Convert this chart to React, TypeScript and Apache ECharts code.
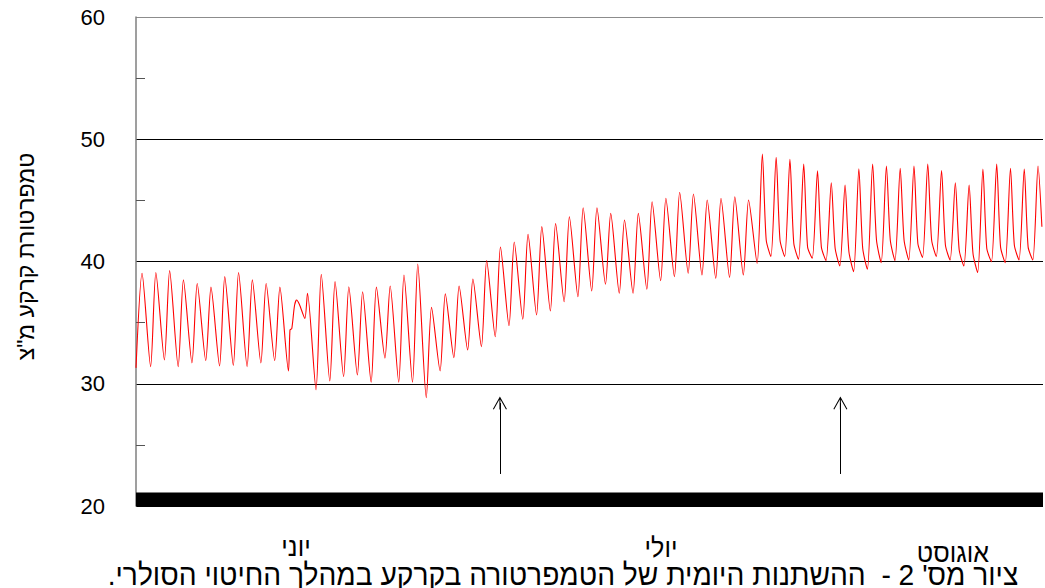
import React, { useEffect, useRef } from "react";
import * as echarts from "echarts";

// ---------- data ----------
const yTickValues = [20, 30, 40, 50, 60];
const months = ["יוני", "יולי", "אוגוסט"];
const yAxisTitle = 'טמפרטורת קרקע מ"צ';
const caption = "ציור מס' 2 -  ההשתנות היומית של הטמפרטורה בקרקע במהלך החיטוי הסולרי.\u200F";

// daily temperature (°C): minimum before each day's peak, daily peak, afternoon shoulder
const troughTemps: (number | null)[] = [
  31.3, 31.4, 31.95, 31.4, 31.7, 31.9, 31.45, 31.5, 31.4, 31.7, 31.9, 31.05, null,
  29.5, 30.23, 30.58, 30.72, 30.12, 32.1, 30.12, 30.12, 28.86, 31.05, 32.13, 32.76,
  33.03, 33.85, 34.75, 35.27, 35.63, 35.95, 36.71, 37.12, 37.59, 38.14, 37.4, 37.4,
  37.73, 38.43, 38.76, 39.04, 38.9, 38.63, 38.7, 38.9, 39.85, 40.4, 40.4, 40.18,
  40.26, 40.07, 39.63, 39.17, 39.36, 39.9, 40.07, 40.12, 40.34, 40.4, 40.12, 39.63,
  39.1, 39.98, 39.9, 40.12, 40.12,
];
const peakTemps: (number | null)[] = [
  39.03, 39.1, 39.25, 38.5, 38.2, 37.9, 38.76, 39.1, 38.5, 38.2, 37.9, null, 37.4,
  38.95, 38.35, 37.94, 37.53, 37.9, 38.0, 38.9, 39.8, 36.25, 37.35, 38.0, 38.57,
  40.07, 41.18, 41.6, 42.22, 42.85, 43.1, 43.66, 44.4, 44.4, 43.94, 43.4, 43.94,
  44.89, 45.17, 45.66, 45.52, 45.03, 45.17, 45.3, 45.03, 48.79, 48.52, 48.35, 47.97,
  47.42, 46.44, 46.25, 47.59, 47.97, 47.81, 47.63, 47.81, 47.97, 47.43, 46.44, 46.25,
  47.56, 47.97, 47.63, 47.56, 47.81,
];
const shoulderTemps: (number | null)[] = [
  null, null, null, null, null, null, null, null, null, null, null, null, null,
  null, null, null, null, null, null, null, null, null, null, null, null,
  null, null, null, null, null, null, null, null, null, null, null, null,
  null, null, null, null, null, null, null, null, 41.76, 41.76, 41.49, 41.2,
  41.2, 41.08, 40.8, 41.08, 41.76, 41.76, 41.76, 41.49, 41.76, 41.35, 40.94, 40.67,
  41.08, 41.2, 41.35, 41.2, null,
];
// cloudy day (irregular readings), [day, °C]
const cloudyDayPoints: [number, number][] = [
  [11.17, 34.4], [11.3, 34.5], [11.5, 36.4], [11.65, 36.85], [11.85, 36.5], [12.25, 35.35],
];
const lastReading: [number, number] = [65.72, 42.85];
const totalDays = 65.8;
// time of day (fraction) of the readings
const troughTime = 0.06;
const peakTime = 0.44;
const shoulderTime = 0.72;

// arrows (day, from °C, to °C)
const arrowDays = [26.4, 51.1];
const arrowFrom = 22.62;
const arrowTo = 28.42;

function buildSeries(): [number, number][] {
  const pts: [number, number][] = [];
  for (let d = 0; d < peakTemps.length; d++) {
    const t = troughTemps[d];
    if (t !== null) pts.push([d === 0 ? 0 : d + troughTime, t]);
    const p = peakTemps[d];
    if (p !== null) pts.push([d + peakTime, p]);
    const s = shoulderTemps[d];
    if (s !== null) pts.push([d + shoulderTime, s]);
  }
  cloudyDayPoints.forEach((p) => pts.push(p));
  pts.push(lastReading);
  pts.sort((a, b) => a[0] - b[0]);
  return pts;
}

const FONT = 'Arial, "Liberation Sans", sans-serif';

export default function App() {
  const ref = useRef<HTMLDivElement>(null);
  useEffect(() => {
    if (!ref.current) return;
    const chart = echarts.init(ref.current, undefined, { renderer: "svg" });
    const arrowPath =
      "path://M7,0 L14,12.4 L13.1,13 L7.5,3 L7.5,13 L6.5,13 L6.5,3 L0.9,13 L0,12.4 Z";
    const monthStyle = (text: string) => ({
      text,
      fontSize: 27,
      fontFamily: FONT,
      fill: "#000",
      textAlign: "center",
      textVerticalAlign: "middle",
    });
    chart.setOption({
      animation: false,
      backgroundColor: "#ffffff",
      grid: { left: 136, right: 2, top: 17, bottom: 82, containLabel: false },
      xAxis: {
        type: "value",
        min: 0,
        max: totalDays,
        axisLine: { show: false },
        axisTick: { show: false },
        axisLabel: { show: false },
        splitLine: { show: false },
      },
      yAxis: {
        type: "value",
        min: yTickValues[0],
        max: yTickValues[yTickValues.length - 1],
        interval: 10,
        name: yAxisTitle,
        nameLocation: "middle",
        nameRotate: 90,
        nameGap: 99,
        nameTextStyle: {
          fontSize: 23,
          color: "#000",
          fontFamily: FONT,
          padding: [0, 0, 0, 10],
        },
        axisLine: { show: true, lineStyle: { color: "#7f7f7f", width: 1.5 } },
        axisTick: { show: false, inside: true },
        minorTick: {
          show: true,
          splitNumber: 2,
          length: 9,
          lineStyle: { color: "#555", width: 1 },
        },
        axisLabel: { fontSize: 22, color: "#000", margin: 31, fontFamily: FONT },
        splitLine: {
          show: true,
          lineStyle: { color: ["#000", "#000", "#000", "#000", "#8c8c8c"], width: 1 },
        },
      },
      series: [
        {
          type: "line",
          data: buildSeries(),
          symbol: "none",
          smooth: 0.25,
          lineStyle: { color: "#ff0000", width: 1.1 },
          itemStyle: { color: "#ff0000" },
          silent: true,
          markArea: {
            silent: true,
            itemStyle: { color: "#000" },
            data: [[{ yAxis: 20 }, { yAxis: 21.1 }]],
          },
          markLine: {
            silent: true,
            symbol: ["none", arrowPath],
            symbolSize: [14, 13],
            label: { show: false },
            lineStyle: { color: "#000", width: 1, type: "solid" },
            data: arrowDays.map((d) => [
              { coord: [d, arrowFrom] },
              { coord: [d, arrowTo] },
            ]),
          },
        },
      ],
      graphic: [
        { type: "text", x: 296, y: 547, scaleX: 0.93, style: monthStyle(months[0]) },
        { type: "text", x: 661, y: 548, scaleX: 0.93, style: monthStyle(months[1]) },
        { type: "text", x: 953, y: 553, scaleX: 0.93, style: monthStyle(months[2]) },
        {
          type: "text",
          x: 563,
          y: 575,
          scaleX: 0.94,
          style: {
            text: caption,
            fontSize: 30,
            fontFamily: FONT,
            fill: "#000",
            textAlign: "center",
            textVerticalAlign: "middle",
          },
        },
      ],
    });
    return () => chart.dispose();
  }, []);
  return (
    <div
      ref={ref}
      style={{ position: "absolute", left: 0, top: 0, width: 1045, height: 588 }}
    />
  );
}
